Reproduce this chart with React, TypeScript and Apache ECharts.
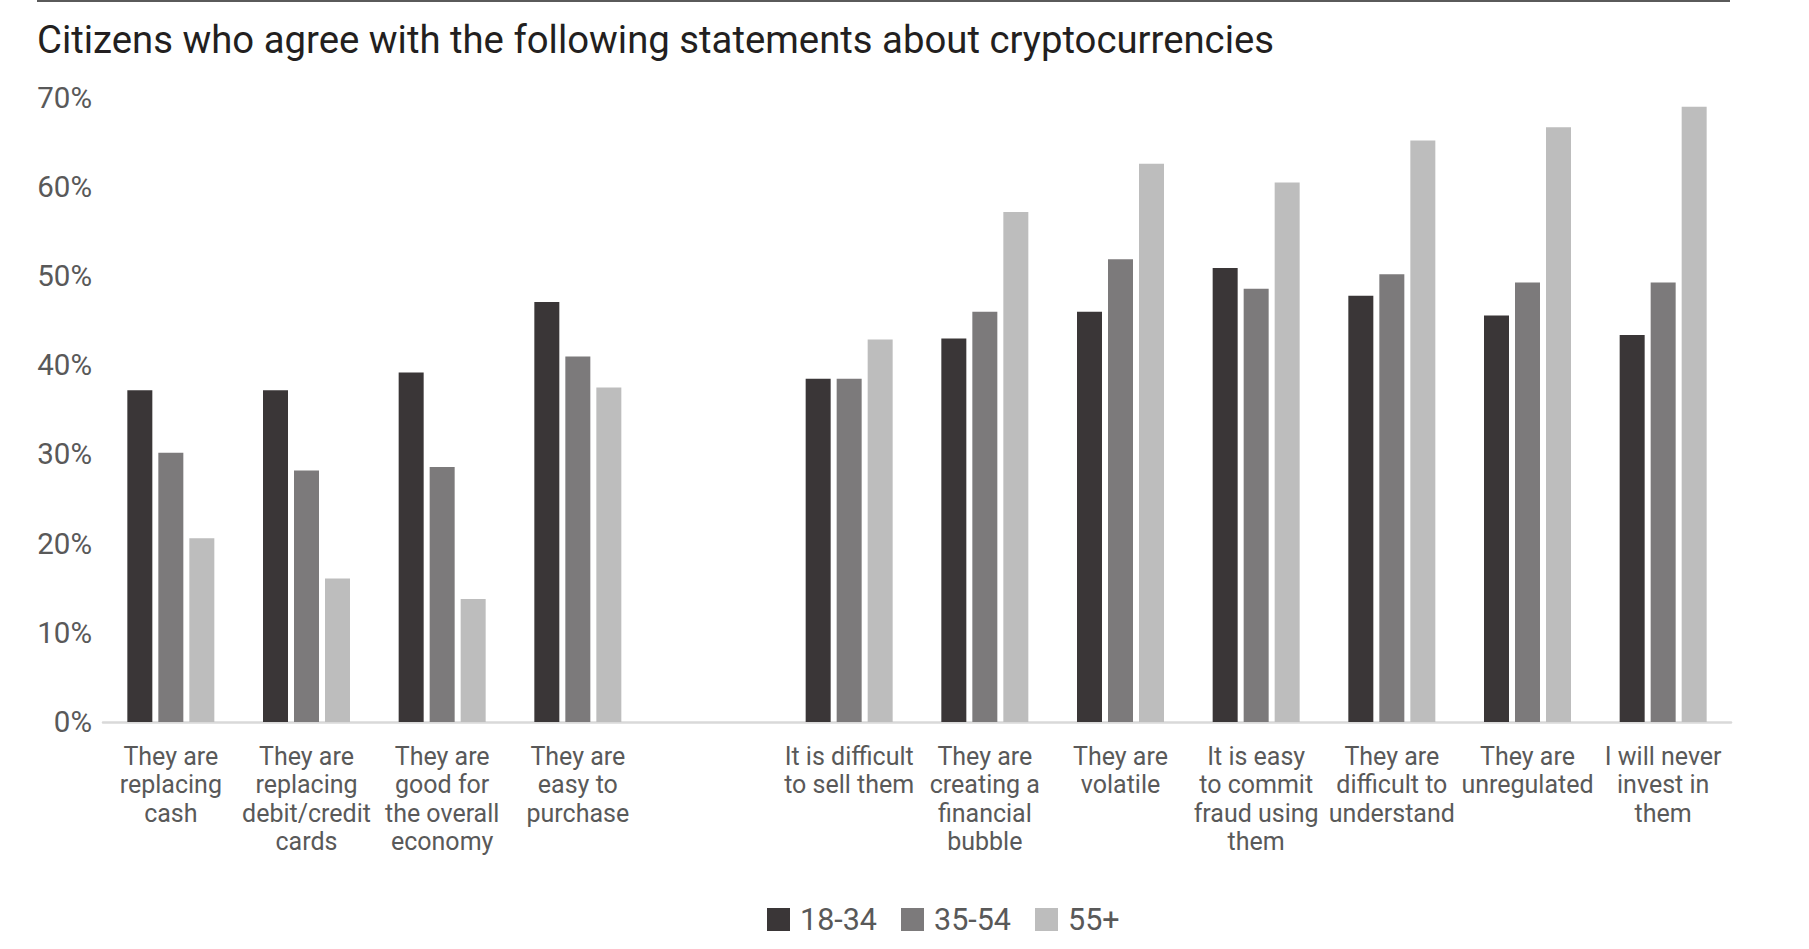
import React, { useEffect, useRef } from "react";
import * as echarts from "echarts";

const categories = [
  "They are\nreplacing\ncash",
  "They are\nreplacing\ndebit/credit\ncards",
  "They are\ngood for\nthe overall\neconomy",
  "They are\neasy to\npurchase",
  "",
  "It is difficult\nto sell them",
  "They are\ncreating a\nfinancial\nbubble",
  "They are\nvolatile",
  "It is easy\nto commit\nfraud using\nthem",
  "They are\ndifficult to\nunderstand",
  "They are\nunregulated",
  "I will never\ninvest in\nthem",
];

const seriesNames = ["18-34", "35-54", "55+"];
const values1834 = [37.2, 37.2, 39.2, 47.1, null, 38.5, 43.0, 46.0, 50.9, 47.8, 45.6, 43.4];
const values3554 = [30.2, 28.2, 28.6, 41.0, null, 38.5, 46.0, 51.9, 48.6, 50.2, 49.3, 49.3];
const values55 = [20.6, 16.1, 13.8, 37.5, null, 42.9, 57.2, 62.6, 60.5, 65.2, 66.7, 69.0];
const colors = ["#3a3637", "#7c7a7b", "#bdbdbd"];

const title = "Citizens who agree with the following statements about cryptocurrencies";

export default function App() {
  const ref = useRef<HTMLDivElement>(null);
  useEffect(() => {
    document.body.style.margin = "0";
    const chart = echarts.init(ref.current!, null, { renderer: "svg" });
    const font = "Roboto";
    const allValues = [values1834, values3554, values55];
    chart.setOption({
      animation: false,
      backgroundColor: "#ffffff",
      textStyle: { fontFamily: font },
      title: {
        text: title,
        left: 37,
        top: 20,
        padding: 0,
        textStyle: { fontSize: 38.3, fontWeight: "normal", color: "#231f20", fontFamily: font },
      },
      graphic: [
        {
          type: "line",
          shape: { x1: 37, y1: 1, x2: 1730, y2: 1 },
          style: { stroke: "#5a5a5a", lineWidth: 2 },
        },
      ],
      legend: {
        data: seriesNames,
        left: 767,
        top: 904,
        padding: 0,
        icon: "rect",
        itemWidth: 23,
        itemHeight: 23,
        itemGap: 24,
        textStyle: { fontSize: 30.5, color: "#595959", fontFamily: font, padding: [0, 0, 0, 5] },
      },
      grid: { left: 103, right: 78, top: 97.8, bottom: 227, containLabel: false },
      xAxis: {
        type: "category",
        data: categories,
        axisTick: { show: false },
        axisLine: { lineStyle: { color: "#d9d9d9", width: 2.5 } },
        axisLabel: {
          interval: 0,
          fontSize: 25,
          lineHeight: 28.5,
          margin: 20,
          color: "#595959",
          fontFamily: font,
        },
      },
      yAxis: {
        type: "value",
        min: 0,
        max: 70,
        interval: 10,
        splitLine: { show: false },
        axisLine: { show: false },
        axisTick: { show: false },
        axisLabel: {
          formatter: "{value}%",
          fontSize: 29.5,
          color: "#595959",
          margin: 11,
          fontFamily: font,
        },
      },
      series: seriesNames.map((name, i) => ({
        name,
        type: "bar",
        data: allValues[i],
        barWidth: 25,
        barGap: "24%",
        itemStyle: { color: colors[i] },
      })),
    });
    return () => chart.dispose();
  }, []);
  return <div ref={ref} style={{ width: 1809, height: 949 }} />;
}
